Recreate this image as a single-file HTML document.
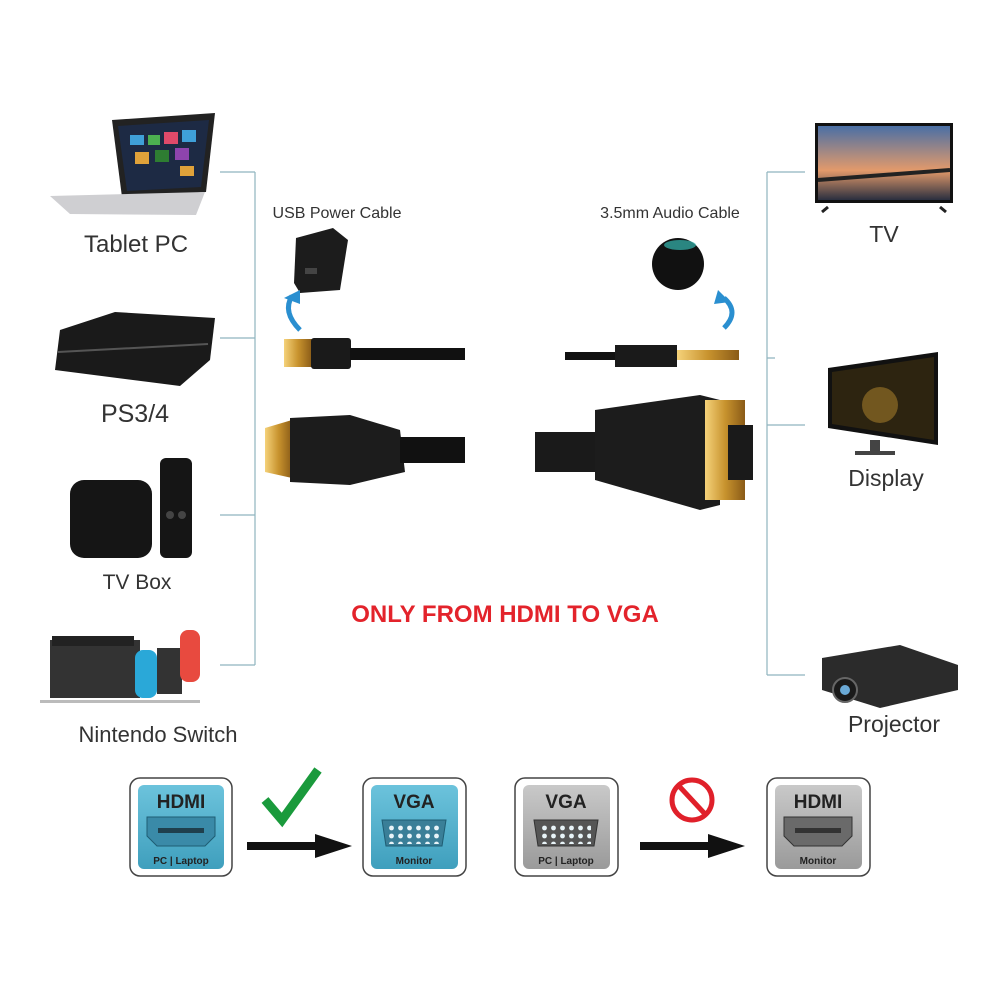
<!DOCTYPE html>
<html><head><meta charset="utf-8"><style>
body{margin:0;width:1000px;height:1000px;background:#fff;overflow:hidden;font-family:"Liberation Sans",sans-serif}
svg{position:absolute;left:0;top:0}
</style></head><body>
<svg width="1000" height="1000" viewBox="0 0 1000 1000" xmlns="http://www.w3.org/2000/svg" font-family="Liberation Sans, sans-serif">
<defs>
<linearGradient id="gold" x1="0" y1="0" x2="1" y2="0"><stop offset="0" stop-color="#f5d27a"/><stop offset="0.5" stop-color="#c8932e"/><stop offset="1" stop-color="#8a5b17"/></linearGradient>
<linearGradient id="blue" x1="0" y1="0" x2="0" y2="1"><stop offset="0" stop-color="#6cc3dc"/><stop offset="1" stop-color="#3f9fbd"/></linearGradient>
<linearGradient id="gray" x1="0" y1="0" x2="0" y2="1"><stop offset="0" stop-color="#c9c9c9"/><stop offset="1" stop-color="#9a9a9a"/></linearGradient>
<linearGradient id="sky" x1="0" y1="0" x2="0" y2="1"><stop offset="0" stop-color="#4a6fa5"/><stop offset="0.6" stop-color="#e39a6b"/><stop offset="1" stop-color="#2a2f3f"/></linearGradient>
<pattern id="dots" width="9" height="8" patternUnits="userSpaceOnUse"><circle cx="4.5" cy="4" r="2.4" fill="#e8f4f8"/></pattern>
</defs>
<g stroke="#8fb5bf" stroke-width="1.2" fill="none">
<path d="M255 172V665 M220 172H255 M220 338H255 M220 515H255 M220 665H255"/>
<path d="M767 172V675 M767 172H805 M767 425H805 M767 675H805 M767 358H775"/>
</g>
<!-- laptop -->
<polygon points="112,120 215,113 206,192 122,197" fill="#222"/>
<polygon points="118,126 209,120 201,187 127,191" fill="#1d2a44"/>
<g fill="#3fa0d8"><rect x="130" y="135" width="14" height="10"/><rect x="148" y="135" width="12" height="10" fill="#4caf50"/><rect x="164" y="132" width="14" height="12" fill="#e04a6a"/><rect x="182" y="130" width="14" height="12"/><rect x="135" y="152" width="14" height="12" fill="#e0a23a"/><rect x="155" y="150" width="14" height="12" fill="#2e7d32"/><rect x="175" y="148" width="14" height="12" fill="#8e44ad"/><rect x="180" y="166" width="14" height="10" fill="#e0a23a"/></g>
<polygon points="50,196 205,192 196,215 70,214" fill="#cfcfd2"/>
<text x="136" y="252" font-size="24" fill="#333" text-anchor="middle">Tablet PC</text>
<!-- PS4 -->
<polygon points="60,330 115,312 215,318 210,360 180,386 55,370" fill="#1a1a1a"/>
<line x1="58" y1="352" x2="208" y2="344" stroke="#555" stroke-width="2"/>
<text x="135" y="422" font-size="25" fill="#333" text-anchor="middle">PS3/4</text>
<!-- TV box -->
<rect x="70" y="480" width="82" height="78" rx="14" fill="#151515"/>
<rect x="160" y="458" width="32" height="100" rx="6" fill="#151515"/>
<circle cx="170" cy="515" r="4" fill="#444"/><circle cx="182" cy="515" r="4" fill="#444"/>
<text x="137" y="589" font-size="21" fill="#333" text-anchor="middle">TV Box</text>
<!-- switch -->
<rect x="50" y="640" width="90" height="58" fill="#333"/>
<rect x="52" y="636" width="82" height="10" fill="#222"/>
<rect x="135" y="650" width="22" height="48" rx="8" fill="#2aa8d8"/>
<rect x="157" y="648" width="25" height="46" fill="#333"/>
<rect x="180" y="630" width="20" height="52" rx="8" fill="#e84a3f"/>
<rect x="40" y="700" width="160" height="3" fill="#bbb"/>
<text x="158" y="742" font-size="22" fill="#333" text-anchor="middle">Nintendo Switch</text>
<!-- TV -->
<rect x="815" y="123" width="138" height="80" fill="#111"/>
<rect x="818" y="126" width="132" height="74" fill="url(#sky)"/>
<line x1="818" y1="180" x2="950" y2="170" stroke="#222" stroke-width="4"/>
<line x1="828" y1="207" x2="822" y2="212" stroke="#222" stroke-width="3"/><line x1="940" y1="207" x2="946" y2="212" stroke="#222" stroke-width="3"/>
<text x="884" y="242" font-size="23" fill="#333" text-anchor="middle">TV</text>
<!-- Display -->
<polygon points="828,368 938,352 938,445 828,428" fill="#111"/>
<polygon points="832,372 934,357 934,440 832,424" fill="#2d2410"/>
<circle cx="880" cy="405" r="18" fill="#a07a2a" opacity="0.6"/>
<rect x="870" y="440" width="10" height="12" fill="#444"/><rect x="855" y="451" width="40" height="4" fill="#444"/>
<text x="886" y="486" font-size="23" fill="#333" text-anchor="middle">Display</text>
<!-- projector -->
<polygon points="822,658 900,645 958,665 958,690 880,708 822,690" fill="#2b2b2b"/>
<circle cx="845" cy="690" r="12" fill="#1a1a1a" stroke="#666" stroke-width="2"/>
<circle cx="845" cy="690" r="5" fill="#6aa9d6"/>
<text x="894" y="732" font-size="23" fill="#333" text-anchor="middle">Projector</text>
<!-- USB power -->
<text x="337" y="218" font-size="16" fill="#333" text-anchor="middle">USB Power Cable</text>
<polygon points="296,238 333,228 348,240 340,290 300,293 294,283" fill="#1c1c1c"/>
<rect x="305" y="268" width="12" height="6" fill="#444"/>
<path d="M300 330 Q282 312 292 296" stroke="#2a8fd0" stroke-width="5" fill="none"/>
<polygon points="284,298 300,290 300,304" fill="#2a8fd0"/>
<rect x="284" y="339" width="28" height="28" fill="url(#gold)"/>
<rect x="311" y="338" width="40" height="31" rx="3" fill="#1a1a1a"/>
<rect x="350" y="348" width="115" height="12" fill="#111"/>
<!-- audio -->
<text x="670" y="218" font-size="16" fill="#333" text-anchor="middle">3.5mm Audio Cable</text>
<circle cx="678" cy="264" r="26" fill="#111"/>
<ellipse cx="680" cy="245" rx="16" ry="5" fill="#35b8b0" opacity="0.7"/>
<path d="M724 328 Q740 312 724 298" stroke="#2a8fd0" stroke-width="5" fill="none"/>
<polygon points="718,290 730,302 714,304" fill="#2a8fd0"/>
<rect x="565" y="352" width="50" height="8" fill="#111"/>
<rect x="615" y="345" width="62" height="22" fill="#1a1a1a"/>
<rect x="677" y="350" width="62" height="10" fill="url(#gold)"/>
<!-- HDMI -->
<polygon points="265,428 292,420 292,478 265,472" fill="url(#gold)"/>
<polygon points="290,418 350,415 400,430 405,472 350,485 290,482" fill="#1c1c1c"/>
<rect x="400" y="437" width="65" height="26" fill="#111"/>
<!-- VGA -->
<rect x="535" y="432" width="60" height="40" fill="#1a1a1a"/>
<polygon points="595,410 700,395 720,400 720,505 700,510 595,480" fill="#1c1c1c"/>
<rect x="705" y="400" width="40" height="100" fill="url(#gold)"/>
<rect x="728" y="425" width="25" height="55" fill="#1a1a1a"/>
<text x="505" y="622" font-size="24" font-weight="bold" fill="#e3232b" text-anchor="middle">ONLY FROM HDMI TO VGA</text>
<!-- bottom icons -->
<rect x="130" y="778" width="102" height="98" rx="10" fill="#fff" stroke="#444" stroke-width="1.5"/>
<rect x="138" y="785" width="86" height="84" rx="6" fill="url(#blue)"/>
<text x="181" y="808" font-size="19" font-weight="bold" fill="#222" text-anchor="middle">HDMI</text>
<polygon points="147,817 215,817 215,836 205,846 157,846 147,836" fill="#3a8aa8" stroke="#1f5d73"/>
<rect x="158" y="828" width="46" height="5" fill="#1f3f4d"/>
<text x="181" y="864" font-size="10" font-weight="bold" fill="#222" text-anchor="middle">PC | Laptop</text>

<rect x="363" y="778" width="103" height="98" rx="10" fill="#fff" stroke="#444" stroke-width="1.5"/>
<rect x="371" y="785" width="87" height="84" rx="6" fill="url(#blue)"/>
<text x="414" y="808" font-size="19" font-weight="bold" fill="#222" text-anchor="middle">VGA</text>
<polygon points="382,820 446,820 442,846 386,846" fill="#3a7f98" stroke="#1f5d73"/>
<rect x="389" y="823" width="50" height="21" fill="url(#dots)"/>
<text x="414" y="864" font-size="10" font-weight="bold" fill="#222" text-anchor="middle">Monitor</text>

<rect x="515" y="778" width="103" height="98" rx="10" fill="#fff" stroke="#444" stroke-width="1.5"/>
<rect x="523" y="785" width="87" height="84" rx="6" fill="url(#gray)"/>
<text x="566" y="808" font-size="19" font-weight="bold" fill="#222" text-anchor="middle">VGA</text>
<polygon points="534,820 598,820 594,846 538,846" fill="#555" stroke="#333"/>
<rect x="541" y="823" width="50" height="21" fill="url(#dots)"/>
<text x="566" y="864" font-size="10" font-weight="bold" fill="#222" text-anchor="middle">PC | Laptop</text>

<rect x="767" y="778" width="103" height="98" rx="10" fill="#fff" stroke="#444" stroke-width="1.5"/>
<rect x="775" y="785" width="87" height="84" rx="6" fill="url(#gray)"/>
<text x="818" y="808" font-size="19" font-weight="bold" fill="#222" text-anchor="middle">HDMI</text>
<polygon points="784,817 852,817 852,836 842,846 794,846 784,836" fill="#6a6a6a" stroke="#333"/>
<rect x="795" y="828" width="46" height="5" fill="#333"/>
<text x="818" y="864" font-size="10" font-weight="bold" fill="#222" text-anchor="middle">Monitor</text>
<!-- arrows -->
<rect x="247" y="842" width="70" height="8" fill="#111"/><polygon points="315,834 352,846 315,858" fill="#111"/>
<rect x="640" y="842" width="70" height="8" fill="#111"/><polygon points="708,834 745,846 708,858" fill="#111"/>
<polyline points="265,800 282,820 318,770" fill="none" stroke="#1a9a3c" stroke-width="9"/>
<circle cx="692" cy="800" r="20" fill="none" stroke="#e0202a" stroke-width="5"/>
<line x1="679" y1="786" x2="705" y2="814" stroke="#e0202a" stroke-width="5"/>
</svg>
</body></html>
